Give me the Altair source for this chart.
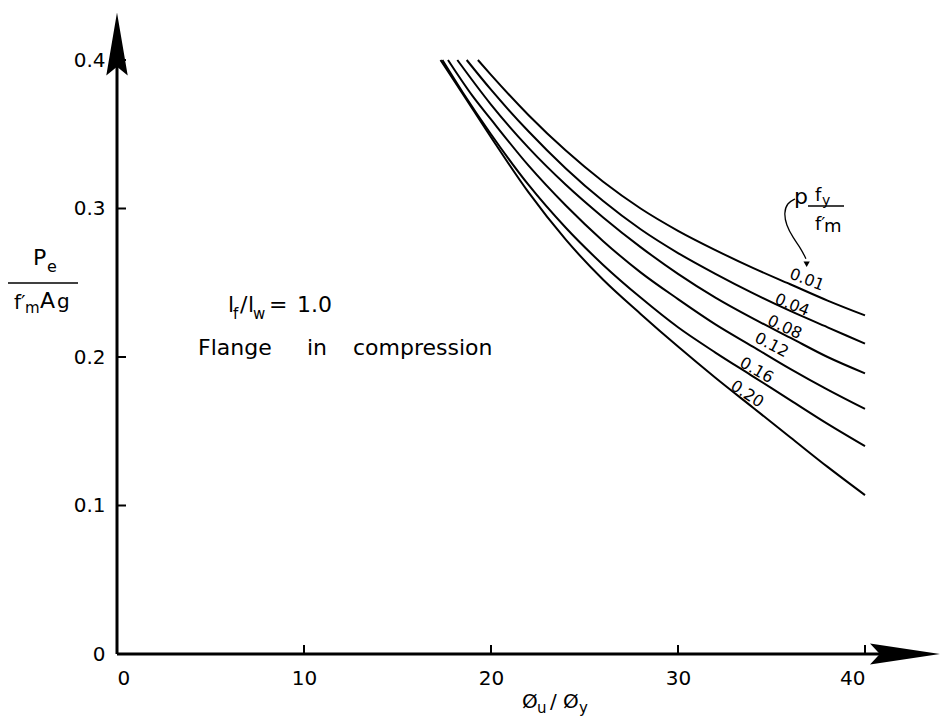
import altair as alt
import pandas as pd

FONT = "DejaVu Sans"

# ---------------- data ----------------
series_names = ["0.01", "0.04", "0.08", "0.12", "0.16", "0.20"]

x_001 = [19.3, 20, 22, 24, 26, 28, 30, 32, 34, 36, 38, 40]
y_001 = [0.400, 0.390, 0.363, 0.339, 0.318, 0.300, 0.285, 0.272, 0.260, 0.249, 0.238, 0.228]

x_004 = [18.7, 20, 22, 24, 26, 28, 30, 32, 34, 36, 38, 40]
y_004 = [0.400, 0.380, 0.352, 0.327, 0.305, 0.286, 0.270, 0.256, 0.243, 0.231, 0.220, 0.209]

x_008 = [18.2, 20, 22, 24, 26, 28, 30, 32, 34, 36, 38, 40]
y_008 = [0.400, 0.370, 0.341, 0.316, 0.294, 0.274, 0.256, 0.240, 0.226, 0.213, 0.200, 0.189]

x_012 = [17.7, 19, 20, 22, 24, 26, 28, 30, 32, 34, 36, 38, 40]
y_012 = [0.400, 0.376, 0.360, 0.329, 0.302, 0.278, 0.257, 0.239, 0.222, 0.207, 0.192, 0.178, 0.165]

x_016 = [17.4, 18.5, 20, 22, 24, 26, 28, 30, 32, 34, 36, 38, 40]
y_016 = [0.400, 0.378, 0.350, 0.316, 0.287, 0.262, 0.240, 0.220, 0.203, 0.187, 0.171, 0.155, 0.140]

x_020 = [17.3, 18.5, 20, 22, 24, 26, 28, 30, 32, 34, 36, 38, 40]
y_020 = [0.400, 0.377, 0.348, 0.311, 0.279, 0.252, 0.229, 0.207, 0.186, 0.166, 0.146, 0.126, 0.107]

curve_x = [x_001, x_004, x_008, x_012, x_016, x_020]
curve_y = [y_001, y_004, y_008, y_012, y_016, y_020]

# curve labels (position in data units, rotation in degrees)
label_x = [36.9, 36.1, 35.7, 35.0, 34.2, 33.7]
label_y = [0.252, 0.235, 0.220, 0.208, 0.191, 0.175]
label_angle = [21, 22, 25, 28, 30, 33]

x_ticks = [0, 10, 20, 30, 40]
y_ticks = [0, 0.1, 0.2, 0.3, 0.4]
x_minor = [10, 20, 30, 40]
y_minor = [0.1, 0.2, 0.3, 0.4]

# curved pointer from the legend annotation to the 0.01 curve
pointer_x = [36.26, 35.83, 35.67, 35.78, 36.15, 36.58, 36.84]
pointer_y = [0.3064, 0.3037, 0.297, 0.289, 0.2803, 0.2729, 0.2662]
pointer_head_x = [36.88]
pointer_head_y = [0.2625]

# ---------------- build tables ----------------
rows = []
for name, xs_, ys_ in zip(series_names, curve_x, curve_y):
    for i, (xv, yv) in enumerate(zip(xs_, ys_)):
        rows.append({"series": name, "x": xv, "y": yv, "order": i})
curves_df = pd.DataFrame(rows)
labels_df = pd.DataFrame({"text": series_names, "x": label_x, "y": label_y, "angle": label_angle})
pointer_df = pd.DataFrame({"x": pointer_x, "y": pointer_y, "order": list(range(len(pointer_x)))})
head_df = pd.DataFrame({"x": pointer_head_x, "y": pointer_head_y})
one = pd.DataFrame({"a": [0]})

W, H = 748, 594
xs = alt.Scale(domain=[0, 40], nice=False, zero=False)
ys = alt.Scale(domain=[0, 0.4], nice=False, zero=False)

lines = alt.Chart(curves_df).mark_line(color="black", strokeWidth=2, interpolate="monotone").encode(
    x=alt.X("x:Q", scale=xs, axis=alt.Axis(values=x_ticks, domain=False, ticks=False, grid=False,
                                          labelFont=FONT, labelFontSize=20, labelColor="black",
                                          labelPadding=14, title=None)),
    y=alt.Y("y:Q", scale=ys, axis=alt.Axis(values=y_ticks, domain=False, ticks=False, grid=False,
                                          labelFont=FONT, labelFontSize=20, labelColor="black",
                                          labelPadding=12, title=None,
                                          labelExpr="datum.value == 0 ? '0' : format(datum.value, '.1f')")),
    detail="series:N",
    order="order:Q",
)

curve_labels = alt.Chart(labels_df).mark_text(font=FONT, fontSize=16, color="black",
                                              align="center", baseline="middle").encode(
    x=alt.X("x:Q", scale=xs), y=alt.Y("y:Q", scale=ys), text="text:N",
    angle=alt.Angle("angle:Q", scale=None)
)

# axis lines
y_axis_line = alt.Chart(one).mark_rule(color="black", strokeWidth=3).encode(
    x=alt.value(0), y=alt.value(H), y2=alt.value(-30))
x_axis_line = alt.Chart(one).mark_rule(color="black", strokeWidth=3).encode(
    x=alt.value(0), x2=alt.value(780), y=alt.value(H))

# inward ticks
y_tick_marks = alt.Chart(pd.DataFrame({"v": y_minor})).mark_rule(color="black", strokeWidth=2).encode(
    y=alt.Y("v:Q", scale=ys), x=alt.value(0), x2=alt.value(9))
x_tick_marks = alt.Chart(pd.DataFrame({"v": x_minor})).mark_rule(color="black", strokeWidth=2).encode(
    x=alt.X("v:Q", scale=xs), y=alt.value(H), y2=alt.value(H - 9))

# arrowheads
up_arrow = alt.Chart(one).mark_point(shape="M0,-1 L0.34,1 L0,0.72 L-0.34,1 Z", filled=True,
                                     color="black", opacity=1, size=3969).encode(
    x=alt.value(0), y=alt.value(-16))
right_arrow = alt.Chart(one).mark_point(shape="M1,0 L-1,-0.3 L-0.72,0 L-1,0.3 Z", filled=True,
                                        color="black", opacity=1, size=4900).encode(
    x=alt.value(788), y=alt.value(H))


def txt(s, x, y, size, align="left", baseline="alphabetic"):
    return alt.Chart(one).mark_text(text=s, font=FONT, fontSize=size, color="black",
                                    align=align, baseline=baseline).encode(
        x=alt.value(x), y=alt.value(y))


def hline(x1, x2, y, w=1.5):
    return alt.Chart(one).mark_rule(color="black", strokeWidth=w).encode(
        x=alt.value(x1), x2=alt.value(x2), y=alt.value(y))


# y-axis title  Pe / f'm Ag
y_title = [
    txt("P", -84, 205, 22),
    txt("e", -70, 212, 16),
    hline(-109, -39, 223),
    txt("f\u2032", -103, 249, 20),
    txt("m", -92, 253, 15),
    txt("A", -77, 248, 22),
    txt("g", -60, 248, 20),
]

# x-axis title  Øu / Øy
x_title = [
    txt("\u00d8", 405, 648, 20),
    txt("u", 420, 653, 15),
    txt("/", 433, 648, 20),
    txt("\u00d8", 446, 648, 20),
    txt("y", 462, 653, 15),
]

# lf/lw = 1.0 and Flange in compression
notes = [
    txt("l", 111, 252, 22),
    txt("f", 116, 259, 15),
    txt("/", 123, 252, 22),
    txt("l", 131, 252, 22),
    txt("w", 136, 259, 15),
    txt("=", 152, 252, 22),
    txt("1.0", 180, 252, 22),
    txt("Flange", 81, 295, 22),
    txt("in", 190, 295, 22),
    txt("compression", 236, 295, 22),
]

# legend annotation  p fy / f'm
legend_note = [
    txt("p", 677, 144, 22),
    hline(691, 727, 146),
    txt("f", 698, 141, 18),
    txt("y", 705, 145, 14),
    txt("f\u2032", 698, 170, 18),
    txt("m", 707, 172, 18),
]

pointer = alt.Chart(pointer_df).mark_line(color="black", strokeWidth=1.3, interpolate="basis").encode(
    x=alt.X("x:Q", scale=xs), y=alt.Y("y:Q", scale=ys), order="order:Q")
pointer_head = alt.Chart(head_df).mark_point(shape="triangle-down", filled=True, color="black",
                                              opacity=1, size=40).encode(
    x=alt.X("x:Q", scale=xs), y=alt.Y("y:Q", scale=ys))

chart = alt.layer(
    lines, curve_labels, y_axis_line, x_axis_line, y_tick_marks, x_tick_marks,
    up_arrow, right_arrow, *y_title, *x_title, *notes, *legend_note, pointer, pointer_head
).properties(
    width=W, height=H,
    autosize=alt.AutoSizeParams(type="none"),
    padding={"left": 117, "top": 60, "right": 75, "bottom": 68},
    background="white",
).configure_view(stroke=None)

chart.save("out.html", embed_options={"renderer": "svg", "actions": False})
